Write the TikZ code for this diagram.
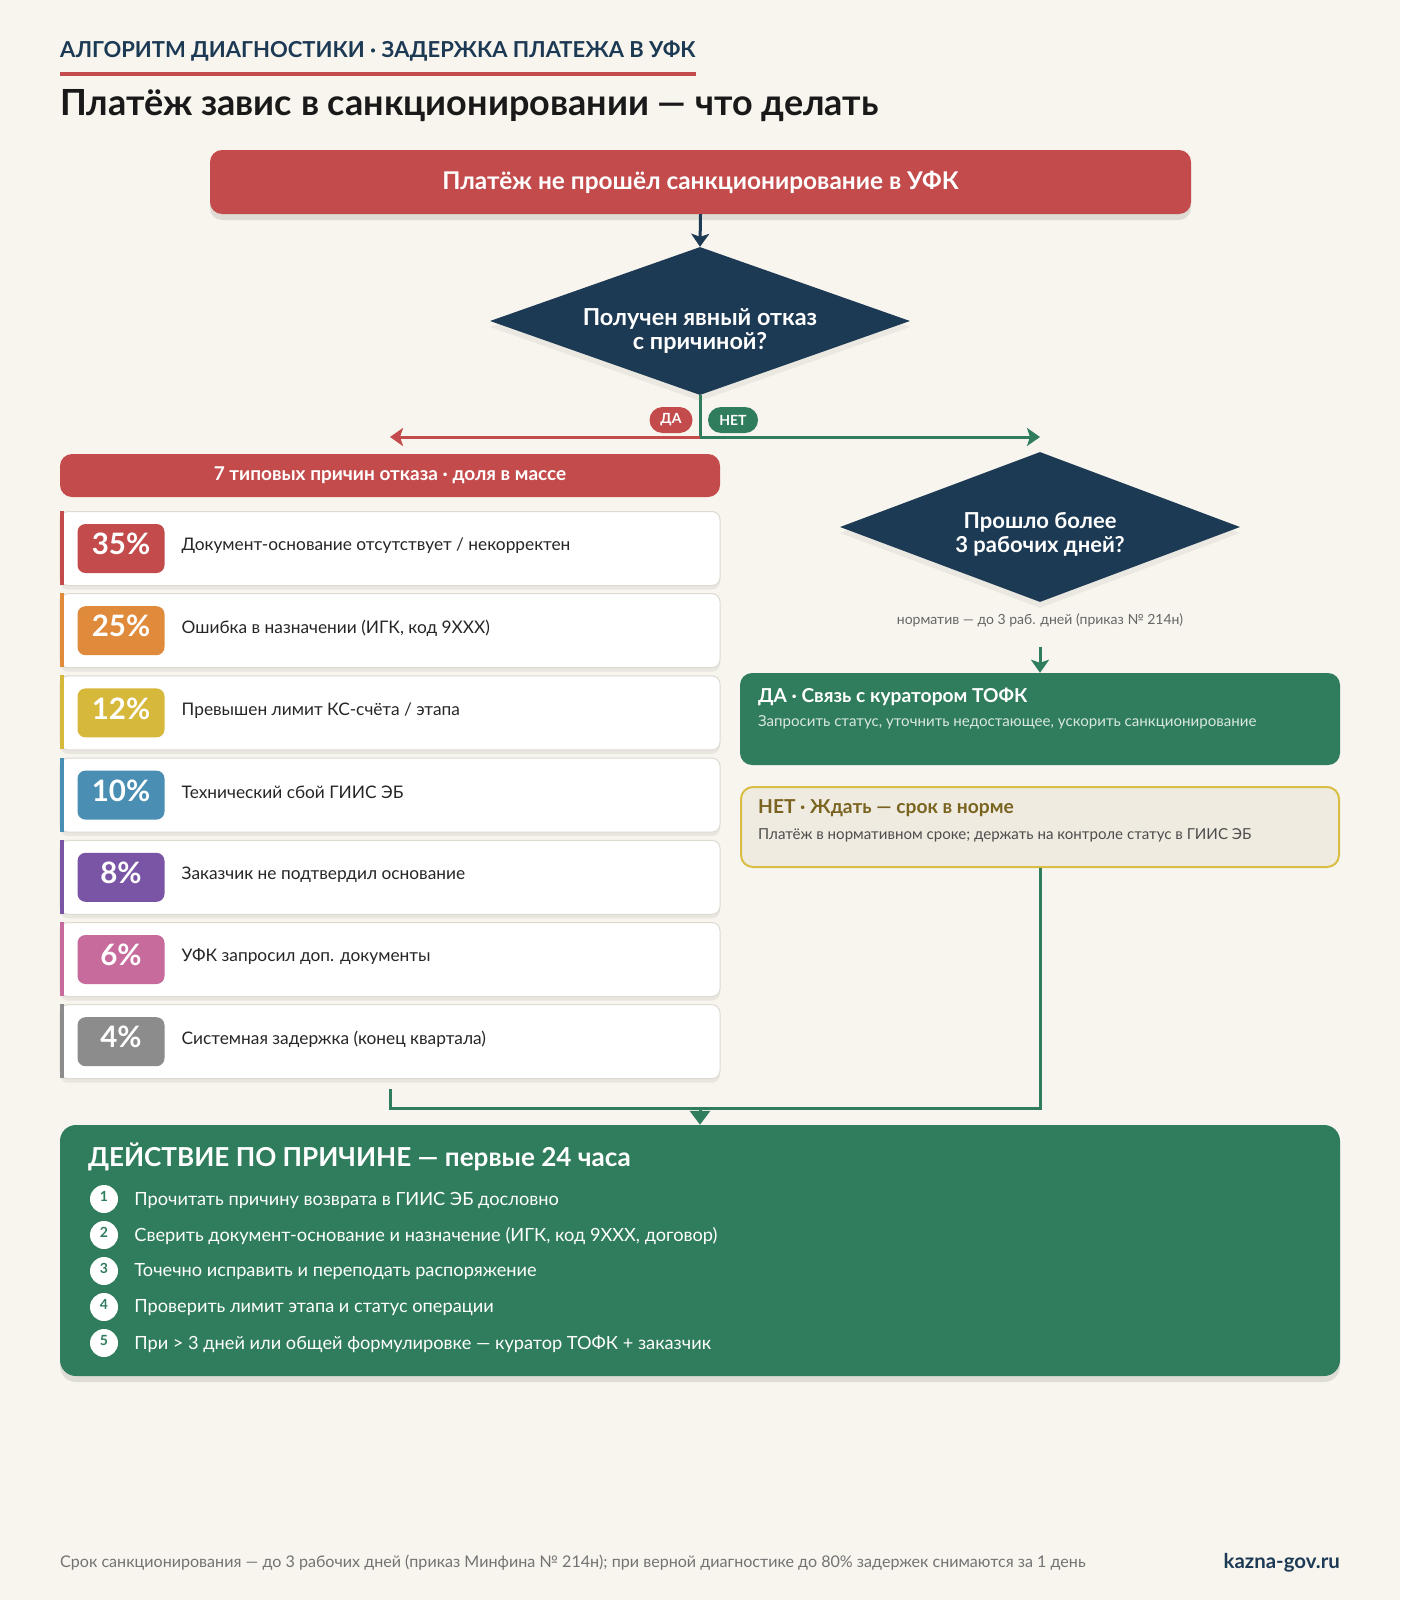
\documentclass[tikz,border=0pt]{standalone}
\usepackage{fontspec}
\setmainfont{Lato}
\usetikzlibrary{positioning,shapes.geometric,arrows.meta,shadows,calc}
\definecolor{bgcream}{HTML}{F8F5EE}
\definecolor{navy}{HTML}{1D3A55}
\definecolor{alarmred}{HTML}{C44B4B}
\definecolor{okgreen}{HTML}{2F7D5C}
\definecolor{rsnred}{HTML}{C44B4B}
\definecolor{rsnorange}{HTML}{E08B3C}
\definecolor{rsnyellow}{HTML}{D6B83A}
\definecolor{rsnblue}{HTML}{4A8FB3}
\definecolor{rsnpurple}{HTML}{7A55A6}
\definecolor{rsnpink}{HTML}{C76B9C}
\definecolor{rsngray}{HTML}{8C8C8C}
\definecolor{waitgold}{HTML}{D8BE45}
\definecolor{waitfill}{HTML}{EFEBE1}
\definecolor{waitolive}{HTML}{7A6420}
\definecolor{softgray}{HTML}{DDDAD2}
\tikzset{
 flowtip/.tip={Stealth[length=13pt,width=18pt,inset=3pt]},
 soft shadow/.style={drop shadow={shadow xshift=0pt,shadow yshift=-6pt,
                     fill=black,opacity=.10}},
 kicker text/.style={inner sep=0pt,text=navy,
                     font=\fontsize{22pt}{26pt}\selectfont\bfseries},
 title text/.style={inner sep=0pt,text=black!90,
                    font=\fontsize{36pt}{40pt}\selectfont\bfseries},
 start box/.style={rectangle,rounded corners=12pt,fill=alarmred,text=white,
                   minimum width=981pt,minimum height=64pt,soft shadow,
                   font=\fontsize{24.4pt}{28pt}\selectfont\bfseries},
 ask diamond/.style={diamond,fill=navy,inner sep=0pt,
                     drop shadow={shadow xshift=0pt,shadow yshift=-6pt,
                                  fill=black,opacity=.05}},
 ask text/.style={text=white,align=center,inner sep=0pt,
                  font=\fontsize{22pt}{24pt}\selectfont\bfseries},
 yes no badge/.style={rectangle,rounded corners=13pt,minimum height=26pt,
                      inner sep=0pt,text=white,
                      font=\fontsize{14pt}{16pt}\selectfont\bfseries},
 red flow/.style={alarmred,line width=3pt},
 green flow/.style={okgreen,line width=3pt},
 navy flow/.style={navy,line width=3pt},
 causes head/.style={rectangle,rounded corners=12pt,fill=alarmred,text=white,
                     minimum width=660pt,minimum height=43pt,
                     font=\fontsize{19pt}{22pt}\selectfont\bfseries},
 reason row/.style={rectangle,rounded corners=8pt,fill=white,draw=softgray,
                    line width=1pt,minimum width=660pt,minimum height=74pt,
                    drop shadow={shadow xshift=0pt,shadow yshift=-4pt,
                                 fill=black,opacity=.06}},
 pct badge/.style={rectangle,rounded corners=8pt,minimum width=87pt,
                   minimum height=49pt,inner sep=0pt,text=white,
                   font=\fontsize{29.5pt}{32pt}\selectfont\bfseries},
 reason text/.style={inner sep=0pt,anchor=west,text=black!85,
                     font=\fontsize{17.3pt}{20pt}\selectfont},
 norm text/.style={inner sep=0pt,text=black!60,
                   font=\fontsize{14pt}{16pt}\selectfont},
 go box/.style={rectangle,rounded corners=12pt,fill=okgreen,
                minimum width=600pt,minimum height=92pt},
 wait box/.style={rectangle,rounded corners=12pt,fill=waitfill,draw=waitgold,
                  line width=2pt,minimum width=598pt,minimum height=80pt},
 box title/.style={inner sep=0pt,anchor=west,
                   font=\fontsize{19.2pt}{23pt}\selectfont\bfseries},
 box sub/.style={inner sep=0pt,anchor=west,
                 font=\fontsize{15.1pt}{18pt}\selectfont},
 action box/.style={rectangle,rounded corners=16pt,fill=okgreen,
                    minimum width=1280pt,minimum height=251pt,soft shadow},
 action title/.style={inner sep=0pt,anchor=west,text=white,
                      font=\fontsize{26.1pt}{30pt}\selectfont\bfseries},
 step dot/.style={circle,fill=white,minimum size=28pt,inner sep=0pt,
                  text=okgreen,font=\fontsize{14pt}{16pt}\selectfont\bfseries},
 step text/.style={inner sep=0pt,anchor=west,text=white,
                   font=\fontsize{18.2pt}{21pt}\selectfont},
 foot text/.style={inner sep=0pt,text=black!55,
                   font=\fontsize{16.1pt}{18pt}\selectfont},
 site text/.style={inner sep=0pt,text=navy,
                   font=\fontsize{20.4pt}{23pt}\selectfont\bfseries}
}

\begin{document}
\begin{tikzpicture}[x=1pt,y=-1pt]
 \fill[bgcream] (0,0) rectangle (1400,1600);
 \useasboundingbox (0,0) rectangle (1400,1600);

 % header
 \node[kicker text,anchor=west] (kicker) at (60,51)
   {АЛГОРИТМ ДИАГНОСТИКИ · ЗАДЕРЖКА ПЛАТЕЖА В УФК};
 \draw[alarmred,line width=4pt] ([yshift=-23.5pt]kicker.west) -- ([yshift=-23.5pt]kicker.east);
 \node[title text,anchor=west] (title) at (60,106)
   {Платёж завис в санкционировании — что делать};

 % start and first question
 \node[start box] (start) at (700.5,182) {Платёж не прошёл санкционирование в УФК};
 \node[ask diamond,minimum width=420pt,minimum height=148pt] (ask1) at (700,321) {};
 \node[ask text,font=\fontsize{23.4pt}{24pt}\selectfont\bfseries] (ask1text)
   at ([yshift=-9.7pt]ask1.center) {Получен явный отказ\\с причиной?};
 \draw[navy flow,-flowtip] (start.south) -- (ask1.north);

 % fork
 \coordinate (fork) at (700,437);
 \node[causes head] (causes) at (390,475.5) {7 типовых причин отказа · доля в массе};
 \node[ask diamond,minimum width=400pt,minimum height=150pt] (ask2) at (1040,527) {};
 \node[ask text] (ask2text) at ([yshift=-7.2pt]ask2.center) {Прошло более\\3 рабочих дней?};
 \draw[green flow] (ask1.south) -- (fork);
 \draw[red flow,-flowtip] (fork) -- (fork -| causes.north);
 \draw[green flow,-flowtip] (fork) -- (fork -| ask2.north);
 \node[yes no badge,fill=alarmred,minimum width=43pt] (yes) at (671,420) {ДА};
 \node[yes no badge,fill=okgreen,minimum width=50pt] (no) at (733,420) {НЕТ};

 % reasons
 \foreach [count=\i] \col/\pct/\txt in {
   rsnred/35\%/{Документ-основание отсутствует / некорректен},
   rsnorange/25\%/{Ошибка в назначении (ИГК, код 9XXX)},
   rsnyellow/12\%/{Превышен лимит КС-счёта / этапа},
   rsnblue/10\%/{Технический сбой ГИИС ЭБ},
   rsnpurple/8\%/{Заказчик не подтвердил основание},
   rsnpink/6\%/{УФК запросил доп. документы},
   rsngray/4\%/{Системная задержка (конец квартала)}}
 {
   \node[reason row] (row\i) at (390,{548.5+82.2*(\i-1)}) {};
   \fill[\col] (row\i.north west) rectangle ++(4.5,74);
   \node[pct badge,fill=\col] (pct\i) at ([xshift=61.5pt]row\i.west) {\raisebox{9pt}{\pct}};
   \node[reason text] (why\i) at ([xshift=122pt,yshift=2.5pt]row\i.west) {\txt};
 }

 % right branch
 \node[norm text] (norm) at (1040,620) {норматив — до 3 раб. дней (приказ № 214н)};
 \coordinate (normgap) at (1040,647);
 \node[go box] (gobox) at (1040,719) {};
 \node[box title,text=white] (gotitle) at ([xshift=18pt,yshift=-24pt]gobox.north west)
   {ДА · Связь с куратором ТОФК};
 \node[box sub,text=white!82!okgreen] (gosub) at ([xshift=18pt,yshift=-50pt]gobox.north west)
   {Запросить статус, уточнить недостающее, ускорить санкционирование};
 \draw[green flow,-flowtip] (normgap) -- (gobox.north);

 \node[wait box] (waitbox) at (1040,827) {};
 \node[box title,text=waitolive] (waittitle) at ([xshift=18pt,yshift=-22pt]waitbox.north west)
   {НЕТ · Ждать — срок в норме};
 \node[box sub,text=black!70] (waitsub) at ([xshift=18pt,yshift=-49pt]waitbox.north west)
   {Платёж в нормативном сроке; держать на контроле статус в ГИИС ЭБ};

 % merge into actions
 \node[action box] (act) at (700,1250.5) {};
 \coordinate (merge) at (700,1108);
 \draw[green flow] (waitbox.south) |- (merge);
 \draw[green flow] ([yshift=-10pt]row7.south) |- (merge);
 \draw[green flow,-{Triangle[length=14pt,width=20pt]}] (merge) -- (act.north);

 \node[action title] (acttitle) at ([xshift=28pt,yshift=-32pt]act.north west)
   {ДЕЙСТВИЕ ПО ПРИЧИНЕ — первые 24 часа};
 \foreach [count=\k] \deed in {
   {Прочитать причину возврата в ГИИС ЭБ дословно},
   {Сверить документ-основание и назначение (ИГК, код 9XXX, договор)},
   {Точечно исправить и переподать распоряжение},
   {Проверить лимит этапа и статус операции},
   {При > 3 дней или общей формулировке — куратор ТОФК + заказчик}}
 {
   \node[step dot] (dot\k) at (104,{1199+36*(\k-1)}) {\raisebox{6pt}{\k}};
   \node[step text] (stp\k) at ([xshift=16pt,yshift=-1pt]dot\k.east) {\deed};
 }

 % footer
 \node[foot text,anchor=west] (foot) at (60,1563)
   {Срок санкционирования — до 3 рабочих дней (приказ Минфина № 214н); при верной диагностике до 80\% задержек снимаются за 1 день};
 \node[site text,anchor=east] (site) at (1340,1563) {kazna-gov.ru};
\end{tikzpicture}
\end{document}
